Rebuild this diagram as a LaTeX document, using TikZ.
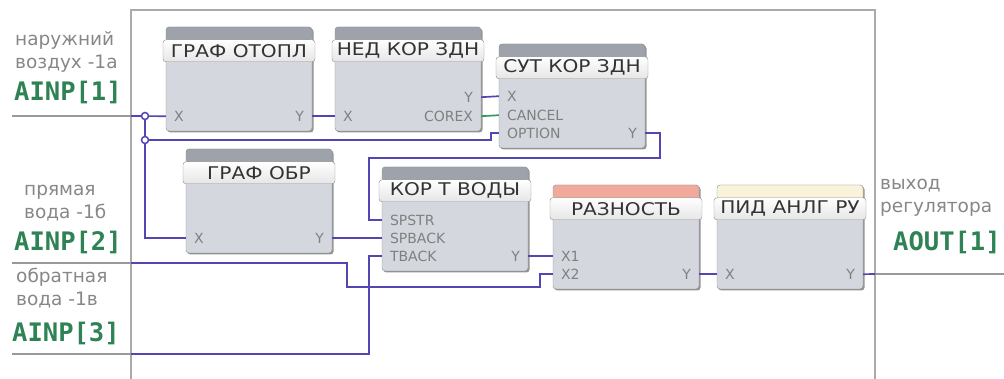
\documentclass[tikz,border=0pt]{standalone}
\usepackage{fontspec}
\setmainfont{DejaVu Sans}
\newfontfamily\titlefont[FakeStretch=1.15]{DejaVu Sans}
\newfontfamily\sigfont{DejaVu Sans Mono}
\usetikzlibrary{positioning, shadows}

\definecolor{wirecol}{RGB}{82,70,178}
\definecolor{linkcol}{RGB}{52,150,100}
\definecolor{sigcol}{RGB}{46,130,84}
\definecolor{textcol}{RGB}{135,135,135}
\definecolor{bodycol}{RGB}{212,215,222}
\definecolor{barcol}{RGB}{158,162,170}
\definecolor{diffcol}{RGB}{240,170,156}
\definecolor{pidcol}{RGB}{250,243,220}
\definecolor{framecol}{RGB}{170,170,170}

\begin{document}
\begin{tikzpicture}[
    x=1pt, y=-1pt,
    block/.style={
      draw=black!45,
      fill=bodycol,
      minimum width=146pt,
      minimum height=104pt,
      rounded corners=3pt,
      drop shadow={shadow xshift=1.5pt, shadow yshift=-1.5pt, fill=black!70, opacity=0.6},
      path picture={\fill[#1] (path picture bounding box.north west)
        rectangle ([yshift=-14pt]path picture bounding box.north east);},
    },
    block/.default=barcol,
    tab/.style={
      draw=black!45,
      top color=white,
      bottom color=black!10,
      minimum width=152pt,
      minimum height=22pt,
      inner sep=0pt,
      rounded corners=3pt,
      font=\titlefont\fontsize{17.5}{17.5}\selectfont,
      text=black!80,
    },
    port/.style={
      font=\fontsize{14}{14}\selectfont,
      text=black!50,
      inner xsep=8pt,
      inner ysep=0pt,
    },
    lbl/.style={
      font=\fontsize{18.5}{23}\selectfont,
      text=textcol,
      align=left,
      anchor=west,
      inner sep=0pt,
    },
    sig/.style={
      font=\sigfont\bfseries\fontsize{25.5}{25.5}\selectfont,
      text=sigcol,
      anchor=west,
      inner sep=0pt,
    },
    wire/.style={wirecol, line width=1.7pt},
    link/.style={linkcol, line width=1.7pt},
    ext/.style={black!40, line width=1.3pt},
    junc/.style={circle, draw=wirecol, fill=white, line width=1.5pt,
      minimum size=7pt, inner sep=0pt},
  ]
  \useasboundingbox (0,0) rectangle (1004,379);

  % --- outer frame of the program sheet ---
  \draw[framecol, line width=1.5pt] (131,379) -- (131,10) -- (875,10) -- (875,379);

  % --- inputs and output at the frame ---
  \coordinate (in1) at (131,116);
  \coordinate (in2) at (131,263);
  \coordinate (in3) at (131,354);
  \coordinate (out) at (875,274);
  \coordinate (j1) at (145,116);
  \coordinate (j2) at (145,140);

  \draw[ext] (in1) -- ++(-119,0);
  \draw[ext] (in2) -- ++(-119,0);
  \draw[ext] (in3) -- ++(-119,0);
  \draw[ext] (out) -- ++(129,0);

  % --- function blocks ---
  \node[block] (otopl) at (239,79) {};
  \node[block] (nedkor) at (408,79) {};
  \node[block] (sutkor) at (572,96) {};
  \node[block] (grafobr) at (259,201) {};
  \node[block] (kortv) at (455,219) {};
  \node[block=diffcol] (razn) at (626,237) {};
  \node[block=pidcol] (pid) at (790,237) {};

  % --- title tabs ---
  \node[tab] (otopl-t) at ([yshift=-24pt]otopl.north) {ГРАФ ОТОПЛ};
  \node[tab] (nedkor-t) at ([yshift=-24pt]nedkor.north) {НЕД КОР ЗДН};
  \node[tab] (sutkor-t) at ([yshift=-24pt]sutkor.north) {СУТ КОР ЗДН};
  \node[tab] (grafobr-t) at ([yshift=-24pt]grafobr.north) {ГРАФ ОБР};
  \node[tab] (kortv-t) at ([yshift=-24pt]kortv.north) {КОР Т ВОДЫ};
  \node[tab] (razn-t) at ([yshift=-24pt]razn.north) {РАЗНОСТЬ};
  \node[tab] (pid-t) at ([yshift=-24pt]pid.north) {ПИД АНЛГ РУ};

  % --- ports ---
  \node[port, anchor=west] (otopl-x) at ([yshift=15pt]otopl.south west) {X};
  \node[port, anchor=east] (otopl-y) at ([yshift=15pt]otopl.south east) {Y};
  \node[port, anchor=west] (nedkor-x) at ([yshift=15pt]nedkor.south west) {X};
  \node[port, anchor=east] (nedkor-y) at ([yshift=34pt]nedkor.south east) {Y};
  \node[port, anchor=east] (nedkor-c) at ([yshift=15pt]nedkor.south east) {COREX};
  \node[port, anchor=west] (sutkor-x) at ([yshift=52pt]sutkor.south west) {X};
  \node[port, anchor=west] (sutkor-c) at ([yshift=33pt]sutkor.south west) {CANCEL};
  \node[port, anchor=west] (sutkor-o) at ([yshift=15pt]sutkor.south west) {OPTION};
  \node[port, anchor=east] (sutkor-y) at ([yshift=15pt]sutkor.south east) {Y};
  \node[port, anchor=west] (grafobr-x) at ([yshift=15pt]grafobr.south west) {X};
  \node[port, anchor=east] (grafobr-y) at ([yshift=15pt]grafobr.south east) {Y};
  \node[port, anchor=west] (kortv-s) at ([yshift=51pt]kortv.south west) {SPSTR};
  \node[port, anchor=west] (kortv-b) at ([yshift=33pt]kortv.south west) {SPBACK};
  \node[port, anchor=west] (kortv-t) at ([yshift=15pt]kortv.south west) {TBACK};
  \node[port, anchor=east] (kortv-y) at ([yshift=15pt]kortv.south east) {Y};
  \node[port, anchor=west] (razn-x1) at ([yshift=33pt]razn.south west) {X1};
  \node[port, anchor=west] (razn-x2) at ([yshift=15pt]razn.south west) {X2};
  \node[port, anchor=east] (razn-y) at ([yshift=15pt]razn.south east) {Y};
  \node[port, anchor=west] (pid-x) at ([yshift=15pt]pid.south west) {X};
  \node[port, anchor=east] (pid-y) at ([yshift=15pt]pid.south east) {Y};

  % --- connections ---
  \draw[wire] (in1) -- (otopl-x.west);
  \draw[wire] (j1) |- (grafobr-x.west);
  \draw[wire] (j2) -| ([xshift=-8pt]sutkor-o.west) -- (sutkor-o.west);
  \draw[wire] (otopl-y.east) -- (nedkor-x.west);
  \draw[wire] (nedkor-y.east) -- (sutkor-x.west);
  \draw[link] (nedkor-c.east) -- (sutkor-c.west);
  \draw[wire] (sutkor-y.east) -- ++(15,0) -- ++(0,25)
    -| ([xshift=-13pt]kortv-s.west) -- (kortv-s.west);
  \draw[wire] (grafobr-y.east) -- (kortv-b.west);
  \draw[wire] (in3) -| ([xshift=-13pt]kortv-t.west) -- (kortv-t.west);
  \draw[wire] (in2) -| ++(216,24)
    -| ([xshift=-13pt]razn-x2.west) -- (razn-x2.west);
  \draw[wire] (kortv-y.east) -- (razn-x1.west);
  \draw[wire] (razn-y.east) -- (pid-x.west);
  \draw[wire] (pid-y.east) -- (out);

  \node[junc] (j1dot) at (j1) {};
  \node[junc] (j2dot) at (j2) {};

  % --- signal names ---
  \node[lbl] (in1-name) at (15,52) {наружний\\воздух -1а};
  \node[sig] (in1-sig) at (14,92) {AINP[1]};
  \node[lbl] (in2-name) at (24,203) {прямая\\вода -1б};
  \node[sig] (in2-sig) at (14,242) {AINP[2]};
  \node[lbl] (in3-name) at (16,288) {обратная\\вода -1в};
  \node[sig] (in3-sig) at (12,333) {AINP[3]};
  \node[lbl] (out-name) at (880,198) {выход\\регулятора};
  \node[sig] (out-sig) at (893,242) {AOUT[1]};

\end{tikzpicture}
\end{document}
